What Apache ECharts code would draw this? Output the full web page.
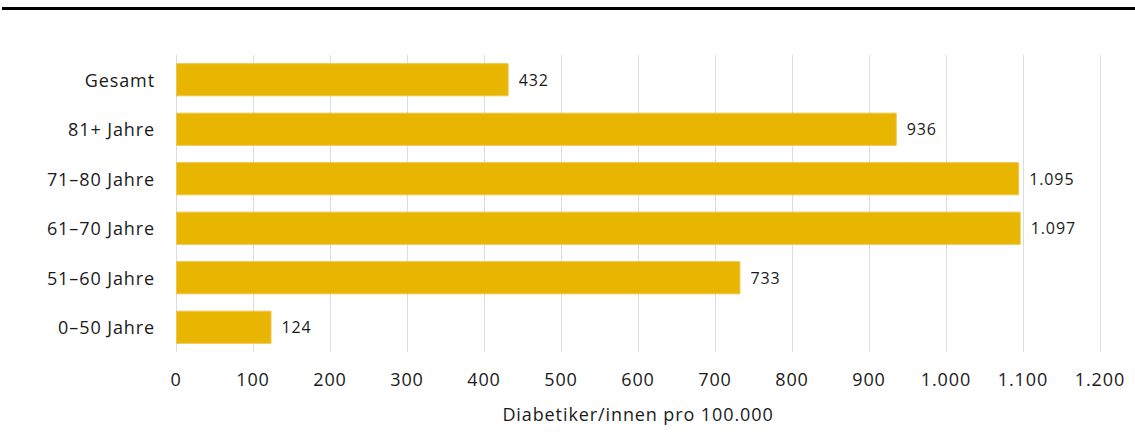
<!DOCTYPE html>
<html>
<head>
<meta charset="utf-8">
<style>
  html, body { margin: 0; padding: 0; background: #fff; }
  #topRule { position: absolute; left: 2px; right: 0; top: 7px; height: 3px; background: #000; }
  #chart { width: 1135px; height: 439px; }
  /* slightly tracked-out lettering for all chart text */
  #chart text { letter-spacing: 0.9px; }
</style>
<script src="https://cdn.jsdelivr.net/npm/echarts@6/dist/echarts.min.js"></script>
</head>
<body>
<div id="topRule"></div>
<div id="chart"></div>
<script>
// Age groups, listed bottom to top as the category axis draws them
const categories = ['0–50 Jahre', '51–60 Jahre', '61–70 Jahre', '71–80 Jahre', '81+ Jahre', 'Gesamt'];
// Diabetics per 100,000 inhabitants
const values = [124, 733, 1097, 1095, 936, 432];
const axisTitle = 'Diabetiker/innen pro 100.000';

const fontFamily = '"Open Sans", "Noto Sans", sans-serif';
const fmt = v => Math.round(v).toString().replace(/\B(?=(\d{3})+(?!\d))/g, '.');

const chart = echarts.init(document.getElementById('chart'), null, { renderer: 'svg' });
chart.setOption({
  animation: false,
  grid: { left: 176, right: 35, top: 55, bottom: 87, containLabel: false },
  xAxis: {
    type: 'value',
    min: 0,
    max: 1200,
    interval: 100,
    name: axisTitle,
    nameLocation: 'middle',
    nameGap: 53,
    nameTextStyle: { fontFamily, fontSize: 18, color: '#1a1a1a' },
    axisLine: { show: false },
    axisTick: { show: false },
    axisLabel: { fontFamily, fontSize: 18, color: '#1a1a1a', margin: 18, formatter: fmt },
    splitLine: { show: true, lineStyle: { color: '#dcdcdc', width: 1 } }
  },
  yAxis: {
    type: 'category',
    data: categories,
    axisLine: { show: false },
    axisTick: { show: false },
    axisLabel: { fontFamily, fontSize: 18, color: '#1a1a1a', margin: 21 }
  },
  series: [{
    type: 'bar',
    data: values,
    barCategoryGap: '33%',
    itemStyle: { color: '#e8b500', borderColor: '#eec44a', borderWidth: 1 },
    label: {
      show: true,
      position: 'right',
      distance: 10,
      fontFamily,
      fontSize: 16,
      color: '#1a1a1a',
      formatter: p => fmt(p.value)
    }
  }]
});
</script>
</body>
</html>
